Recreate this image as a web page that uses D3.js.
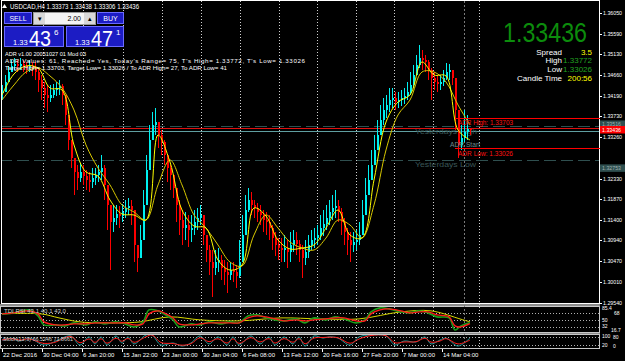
<!DOCTYPE html>
<html lang="en">
<head>
<meta charset="UTF-8">
<title>USDCAD,H4</title>
<script src="https://d3js.org/d3.v7.min.js"></script>
<style>
  body { margin: 0; background: #000; }
  svg { display: block; font-family: "Liberation Sans", Arial, sans-serif; }
</style>
</head>
<body>
<svg id="chart" width="625" height="361"></svg>
<script>
const closes = [
  1.3428,1.34505,1.3473,1.34865,1.3491,1.34865,1.3491,1.34865,1.3482,1.34865,
  1.3482,1.3473,1.3455,1.3437,1.34213,1.34145,1.34213,1.34325,1.3437,1.34415,
  1.34213,1.33763,1.3320,1.32795,1.3248,1.32345,1.3248,1.3239,1.3230,1.32255,
  1.32345,1.32413,1.3248,1.3257,1.32188,1.31738,1.31355,1.31445,1.31535,1.3149,
  1.3158,1.3167,1.31715,1.31625,1.30838,1.30545,1.3095,1.31738,1.32525,1.3320,
  1.33538,1.33605,1.33313,1.33155,1.32863,1.3257,1.32413,1.3212,1.31738,1.3140,
  1.3122,1.31288,1.31175,1.3122,1.31355,1.31445,1.31513,1.31063,1.30725,1.30455,
  1.3032,1.30455,1.3050,1.3032,1.3023,1.30163,1.30275,1.3023,1.3014,1.30455,
  1.31063,1.31625,1.3185,1.31738,1.3167,1.3158,1.31513,1.3140,1.31355,1.3122,
  1.30995,1.30838,1.3077,1.30725,1.3077,1.3068,1.30838,1.3095,1.3086,1.30725,
  1.30545,1.3068,1.30838,1.3095,1.30995,1.31063,1.3122,1.3131,1.31445,1.3158,
  1.3167,1.31715,1.3158,1.31355,1.3113,1.3095,1.30838,1.30905,1.3095,1.31063,
  1.31513,1.31963,1.3230,1.32638,1.32975,1.33313,1.3365,1.33875,1.33988,1.3410,
  1.34145,1.34055,1.3410,1.34145,1.3419,1.3428,1.34438,1.34663,1.34888,1.35045,
  1.3500,1.34955,1.34775,1.34595,1.34505,1.3446,1.34505,1.34595,1.3473,1.34775,
  1.34595,1.33875,1.33088,1.33245,1.3338,1.33448,1.33436
];
const highs = [
  1.34438,1.34663,1.34865,1.3500,1.35045,1.3500,1.35045,1.3500,1.34955,1.3500,
  1.34955,1.34955,1.3482,1.34663,1.34505,1.34438,1.34438,1.3446,1.34505,1.3455,
  1.3446,1.34213,1.33763,1.3320,1.32795,1.32638,1.32683,1.32638,1.32525,1.3248,
  1.3257,1.3257,1.32638,1.32863,1.32638,1.32188,1.31738,1.31738,1.31738,1.31715,
  1.3176,1.3185,1.31895,1.3185,1.31625,1.30838,1.31288,1.32075,1.32863,1.33538,
  1.3383,1.3392,1.33605,1.33425,1.3320,1.32863,1.32638,1.32413,1.3212,1.3185,
  1.31625,1.3158,1.31513,1.31513,1.31625,1.3167,1.31738,1.31513,1.31063,1.30838,
  1.30725,1.30725,1.3077,1.30613,1.3050,1.30455,1.30455,1.30455,1.30388,1.3095,
  1.31513,1.31963,1.3212,1.3203,1.3185,1.31783,1.31738,1.31625,1.3158,1.31513,
  1.31288,1.3113,1.30995,1.30995,1.31063,1.3095,1.3113,1.31175,1.3113,1.3095,
  1.30838,1.3095,1.31063,1.31175,1.3122,1.31288,1.31513,1.31625,1.31738,1.3185,
  1.31963,1.32075,1.3185,1.3167,1.31445,1.3122,1.3113,1.3113,1.31175,1.31355,
  1.3185,1.32345,1.32638,1.32975,1.33313,1.3365,1.33988,1.34145,1.34213,1.3437,
  1.3437,1.3428,1.3428,1.34325,1.3437,1.34505,1.3473,1.34888,1.35113,1.35338,
  1.35225,1.35113,1.3500,1.3482,1.3473,1.3464,1.34663,1.34775,1.34933,1.3491,
  1.34775,1.34595,1.33875,1.33538,1.33875,1.33763,1.33455
];
const lows = [
  1.3410,1.3428,1.34505,1.3473,1.34775,1.3473,1.34775,1.3473,1.34685,1.3473,
  1.3464,1.3455,1.3428,1.3410,1.3392,1.3383,1.34055,1.34145,1.3419,1.34213,
  1.33988,1.33538,1.32975,1.3257,1.31963,1.32075,1.32255,1.32188,1.32075,1.3203,
  1.3212,1.32188,1.32255,1.3230,1.3185,1.31175,1.30275,1.3113,1.31288,1.3122,
  1.31355,1.31445,1.31513,1.31288,1.30455,1.3023,1.30545,1.3095,1.31738,1.32525,
  1.3320,1.33313,1.3302,1.32863,1.32638,1.32255,1.32075,1.31895,1.31355,1.31063,
  1.30838,1.3095,1.30793,1.30905,1.31063,1.31175,1.31288,1.30838,1.30455,1.30163,
  1.29668,1.30163,1.3023,1.3005,1.29938,1.29758,1.3005,1.30005,1.2987,1.30095,
  1.30455,1.31063,1.3158,1.31513,1.31445,1.31355,1.31288,1.3113,1.31063,1.3095,
  1.30725,1.3059,1.3050,1.30455,1.30455,1.3032,1.30455,1.3068,1.30613,1.30455,
  1.30095,1.30388,1.30545,1.30725,1.3077,1.30838,1.3095,1.3104,1.31175,1.31288,
  1.3140,1.31445,1.31355,1.31063,1.30838,1.30613,1.30455,1.3068,1.30725,1.30838,
  1.31063,1.31513,1.31963,1.3230,1.32638,1.32975,1.33313,1.33538,1.33695,1.3383,
  1.3392,1.33875,1.3392,1.33965,1.3401,1.3410,1.34213,1.3437,1.34663,1.3482,
  1.34775,1.3473,1.3455,1.3410,1.34325,1.3428,1.34325,1.34415,1.3455,1.3455,
  1.34438,1.33425,1.32795,1.32975,1.33155,1.3320,1.33306
];

// moving averages, one reading every 4 bars
const maStep = 4;
const maFast = [
  1.34213,1.34685,1.34865,1.3482,1.3437,1.34325,1.33088,1.3248,1.3239,1.3185,
  1.31535,1.31513,1.3140,1.33313,1.32705,1.31625,1.31265,1.3122,1.3050,1.30275,
  1.30388,1.3167,1.3149,1.3095,1.30748,1.3077,1.30838,1.3122,1.31625,1.31063,
  1.30995,1.3230,1.33605,1.34055,1.34213,1.34955,1.34663,1.3464,1.33425,1.3320
];
const maSlow = [
  1.3410,1.34438,1.3473,1.3482,1.3464,1.3437,1.33875,1.33088,1.3257,1.32188,
  1.31738,1.3158,1.3140,1.32188,1.3275,1.32188,1.31513,1.3122,1.30838,1.30455,
  1.30365,1.31063,1.31513,1.3122,1.30905,1.3077,1.30725,1.30995,1.3140,1.31288,
  1.30995,1.31738,1.32975,1.33763,1.3410,1.3473,1.3473,1.34505,1.33988,1.33538
];

// TDI sub-window
const rsiBars = [0,4,9,12,14,18,21,24,28,31,34,38,41,44,47,49,52,54,57,59,63,66,69,73,76,79,82,85,88,91,94,98,101,104,108,111,114,118,121,123,126,129,133,136,139,142,145,149,151,153,156];
const rsiGreen = [66.4,69.1,77.2,61.0,36.8,36.8,34.1,42.2,36.8,44.9,39.5,44.9,39.5,31.4,44.9,77.2,74.5,66.4,50.3,31.4,39.5,36.8,44.9,39.5,44.9,42.2,61.0,63.7,55.6,50.3,47.6,52.9,42.2,55.6,50.3,58.3,52.9,42.2,50.3,71.8,82.6,79.9,71.8,69.1,74.5,69.1,58.3,55.6,23.3,34.1,43.1];
const rsiRed = [66.4,69.1,74.5,66.4,44.9,36.8,36.8,39.5,39.5,42.2,42.2,42.2,42.2,36.8,39.5,66.4,74.5,69.1,55.6,39.5,36.8,39.5,42.2,42.2,42.2,42.2,55.6,61.0,58.3,52.9,47.6,50.3,47.6,50.3,52.9,55.6,55.6,47.6,47.6,66.4,77.2,79.9,74.5,69.1,71.8,71.8,63.7,58.3,34.1,31.4,40.1];
const baseBars = [0,13,19,26,39,46,56,66,79,93,106,119,133,143,153,156];
const baseLine = [66.4,66.4,55.6,44.9,42.2,44.9,58.3,50.3,47.6,55.6,52.9,52.9,71.8,74.5,52,45];
const rsiLevels = [68, 50, 32];
const rsiRange = [16.7, 85.4];

// Stochastic sub-window
const stochBars = [0,3,6,9,14,18,20,23,26,29,31,33,35,38,40,42,44,48,50,53,57,60,63,66,69,72,75,77,79,83,86,89,91,94,97,99,101,104,107,109,112,116,119,123,128,131,134,138,141,143,146,148,152,156];
const stochMain = [57,71,50,71,21,50,71,86,21,79,29,79,21,86,36,79,29,93,93,21,36,14,36,86,29,79,21,79,21,86,29,79,21,79,29,79,14,86,71,79,71,21,79,93,86,21,50,43,79,29,57,71,14,72];
const stochSignal = [57,67,56,65,33,43,65,82,37,65,40,66,34,70,48,68,41,80,93,39,32,20,31,73,45,66,35,66,33,74,43,67,35,67,41,67,30,71,75,77,73,34,64,89,88,37,43,45,70,42,50,67,29,57];
const stochLevels = [80, 20];

// axis text
const priceTicks = [1.36050,1.35590,1.35130,1.34660,1.34190,1.33730,1.33260,1.32330,1.31870,1.31400,1.30940,1.30470,1.30010,1.29540];
const dateLabels = ["22 Dec 2016","30 Dec 04:00","6 Jan 20:00","15 Jan 22:00","23 Jan 00:00","30 Jan 04:00","6 Feb 08:00","13 Feb 12:00","20 Feb 16:00","27 Feb 20:00","7 Mar 00:00","14 Mar 04:00"];
const gridBars = [13.8,27,40.2,53.3,66.3,79.3,92.3,105,117.9,130.8,143.8,159.1];

// levels and info
const bid = 1.33436, ask = 1.33471;
const barInfo = { open: "1.33373", high: "1.33438", low: "1.33306", close: "1.33436" };
const yHigh = 1.33516, yLow = 1.32753;
const adrHigh = 1.33703, adrLow = 1.33026, adrFromBar = 151, adrStartBar = 154;
const dayHigh = "1.33772", dayLow = "1.33026", spread = "3.5", candleTime = "200:56";

const svg = d3.select("#chart");
const W = 625, H = 361;
const right = 599.5, mainBottom = 303.5;

const x = d3.scaleLinear().domain([0, closes.length - 1]).range([2, 470]);
const y = d3.scaleLinear().domain([1.29540, 1.36050]).range([302.7, 13.3]);
const yRsi = d3.scaleLinear().domain(rsiRange).range([332.4, 306.8]);
const ySto = d3.scaleLinear().domain([0, 100]).range([348, 334]);
const px = v => Math.round(v) + 0.5;

svg.append("rect").attr("width", W).attr("height", H).attr("fill", "#000");
const defs = svg.append("defs");
defs.append("clipPath").attr("id", "mainClip").append("rect")
  .attr("x", 2).attr("y", 1).attr("width", 597).attr("height", 302);
defs.append("clipPath").attr("id", "sub1Clip").append("rect")
  .attr("x", 2).attr("y", 307).attr("width", 597).attr("height", 25);
defs.append("clipPath").attr("id", "sub2Clip").append("rect")
  .attr("x", 2).attr("y", 335).attr("width", 597).attr("height", 13);

function text(g, tx, ty, s, o = {}) {
  const t = g.append("text").attr("x", tx).attr("y", ty).text(s)
    .attr("font-size", o.size || 7).attr("fill", o.fill || "#fff")
    .attr("text-anchor", o.anchor || "start");
  if (o.len) t.attr("textLength", o.len).attr("lengthAdjust", o.adjust || "spacingAndGlyphs");
  return t;
}

// window frames and separators
const frame = svg.append("g").attr("shape-rendering", "crispEdges");
frame.append("rect").attr("x", 0).attr("y", 304).attr("width", 600).attr("height", 2).attr("fill", "#8c8c8c");
frame.append("rect").attr("x", 0).attr("y", 333).attr("width", 600).attr("height", 1).attr("fill", "#8c8c8c");
frame.append("rect").attr("x", 1.5).attr("y", 0.5).attr("width", right - 1.5).attr("height", mainBottom - 0.5)
  .attr("fill", "none").attr("stroke", "#fff");
frame.append("rect").attr("x", 0.5).attr("y", 306.5).attr("width", right - 0.5).attr("height", 26)
  .attr("fill", "none").attr("stroke", "#c8c8c8");
frame.append("rect").attr("x", 0.5).attr("y", 334.5).attr("width", right - 0.5).attr("height", 14)
  .attr("fill", "none").attr("stroke", "#c8c8c8");

// vertical grid
const grid = svg.append("g").attr("shape-rendering", "crispEdges");
grid.selectAll("line").data(gridBars).join("line")
  .attr("x1", d => px(x(d))).attr("x2", d => px(x(d)))
  .attr("y1", 1).attr("y2", 348)
  .attr("stroke", "#d0d0d0").attr("stroke-dasharray", "1,2");
grid.append("line")
  .attr("x1", px(x(adrStartBar))).attr("x2", px(x(adrStartBar)))
  .attr("y1", 1).attr("y2", 348)
  .attr("stroke", "#7a7a7a").attr("stroke-dasharray", "2,2");

// sub-window levels
grid.selectAll("line.rl").data(rsiLevels).join("line").attr("class", "rl")
  .attr("x1", 1).attr("x2", right).attr("y1", d => px(yRsi(d))).attr("y2", d => px(yRsi(d)))
  .attr("stroke", "#b0b0b0").attr("stroke-dasharray", "1,2");
grid.selectAll("line.sl").data(stochLevels).join("line").attr("class", "sl")
  .attr("x1", 1).attr("x2", right).attr("y1", d => px(ySto(d))).attr("y2", d => px(ySto(d)))
  .attr("stroke", "#b0b0b0").attr("stroke-dasharray", "1,2");

// horizontal objects behind candles
const objs = svg.append("g").attr("clip-path", "url(#mainClip)").attr("shape-rendering", "crispEdges");
[yHigh, yLow].forEach(p => {
  objs.append("line").attr("x1", 0).attr("x2", right).attr("y1", px(y(p))).attr("y2", px(y(p)))
    .attr("stroke", "#2f4f4f").attr("stroke-dasharray", "12,5");
});
objs.append("line").attr("x1", 0).attr("x2", right).attr("y1", px(y(ask))).attr("y2", px(y(ask)))
  .attr("stroke", "#e01010");
objs.append("line").attr("x1", 0).attr("x2", right).attr("y1", px(y(bid)) + 1).attr("y2", px(y(bid)) + 1)
  .attr("stroke", "#5f9ea0");
text(svg, 415, y(yHigh) + 8, "Yesterdays High", { size: 8, fill: "#3a5656", len: 62 });
text(svg, 415, y(yLow) + 7, "Yesterdays Low", { size: 8, fill: "#3a5656", len: 61 });

// candles
const bars = closes.map((c, i) => ({ i, o: i ? closes[i - 1] : c, h: highs[i], l: lows[i], c }));
const up = "#00f0f0", down = "#ff0000";
const cg = svg.append("g").attr("clip-path", "url(#mainClip)").attr("shape-rendering", "crispEdges");
cg.selectAll("line").data(bars).join("line")
  .attr("x1", d => x(d.i) + 0.5).attr("x2", d => x(d.i) + 0.5)
  .attr("y1", d => y(d.h)).attr("y2", d => y(d.l))
  .attr("stroke", d => d.c >= d.o ? up : down);
cg.selectAll("rect").data(bars).join("rect")
  .attr("x", d => x(d.i)).attr("width", 2)
  .attr("y", d => y(Math.max(d.o, d.c)))
  .attr("height", d => Math.max(1, Math.abs(y(d.o) - y(d.c))))
  .attr("fill", d => d.c >= d.o ? up : down);

// moving averages
const maLine = d3.line().x((d, i) => x(i * maStep)).y(d => y(d)).curve(d3.curveCatmullRom.alpha(0.5));
const mg = svg.append("g").attr("clip-path", "url(#mainClip)").attr("fill", "none");
mg.append("path").attr("d", maLine(maSlow)).attr("stroke", "#d8c800").attr("stroke-width", 1);
mg.append("path").attr("d", maLine(maFast)).attr("stroke", "#ffff00").attr("stroke-width", 1);

// ADR box lines
const adr = svg.append("g").attr("shape-rendering", "crispEdges");
[adrHigh, adrLow].forEach(p => {
  adr.append("line").attr("x1", x(adrFromBar)).attr("x2", right).attr("y1", px(y(p))).attr("y2", px(y(p)))
    .attr("stroke", "#ff0000").attr("stroke-width", 1.5);
});
text(svg, 458, y(adrHigh) + 7.5, "ADR High: " + adrHigh.toFixed(5), { size: 7, fill: "#ff1010", len: 55 });
text(svg, 458, y(adrLow) + 8, "ADR Low: " + adrLow.toFixed(5), { size: 7, fill: "#ff1010", len: 55 });
text(svg, 450, y(adrLow) - 0.5, "ADR Start", { size: 6.5, fill: "#6a8c8c", len: 30 });

// TDI lines
const rsiLine = vals => d3.line().x((d, i) => x(rsiBars[i])).y(d => yRsi(d)).curve(d3.curveCatmullRom.alpha(0.5))(vals);
const s1 = svg.append("g").attr("clip-path", "url(#sub1Clip)").attr("fill", "none");
s1.append("path").attr("d", d3.line().x((d, i) => x(baseBars[i])).y(d => yRsi(d)).curve(d3.curveCatmullRom.alpha(0.5))(baseLine))
  .attr("stroke", "#d8d800").attr("stroke-width", 1);
s1.append("path").attr("d", rsiLine(rsiGreen)).attr("stroke", "#1a9e1a").attr("stroke-width", 1.6);
s1.append("path").attr("d", rsiLine(rsiRed)).attr("stroke", "#ff1a1a").attr("stroke-width", 1.3);
text(svg, 4, 313, "TDI RSI " + rsiGreen[rsiGreen.length - 1].toFixed(1) + " " + rsiRed[rsiRed.length - 1].toFixed(1) + " 43.0",
  { size: 6, fill: "#d0d0d0", len: 62 });

// Stochastic lines
const stLine = vals => d3.line().x((d, i) => x(stochBars[i])).y(d => ySto(d)).curve(d3.curveCatmullRom.alpha(0.5))(vals);
const s2 = svg.append("g").attr("clip-path", "url(#sub2Clip)").attr("fill", "none");
s2.append("path").attr("d", stLine(stochMain)).attr("stroke", "#1f9a9a").attr("stroke-width", 1);
s2.append("path").attr("d", stLine(stochSignal)).attr("stroke", "#ff1a1a").attr("stroke-width", 1);
text(svg, 3, 341, "Stoch(13,3) 66.5346 71.8661", { size: 6, fill: "#d0d0d0", len: 70 });

// price axis
const ax = svg.append("g");
ax.selectAll("line").data(priceTicks).join("line")
  .attr("x1", 600).attr("x2", 602).attr("y1", d => px(y(d))).attr("y2", d => px(y(d)))
  .attr("stroke", "#fff").attr("shape-rendering", "crispEdges");
ax.selectAll("text").data(priceTicks).join("text")
  .attr("x", 603).attr("y", d => y(d) + 2).attr("font-size", 5.8).attr("fill", "#fff")
  .attr("textLength", 19).attr("lengthAdjust", "spacingAndGlyphs")
  .text(d => d.toFixed(5));

function priceBox(py, label, bg, fg) {
  ax.append("rect").attr("x", 600).attr("y", py - 3.5).attr("width", 25).attr("height", 7.5).attr("fill", bg);
  text(ax, 602, py + 2.2, label, { size: 5.8, fill: fg, len: 19 });
}
priceBox(y(yHigh) - 2, yHigh.toFixed(5), "#2f4f4f", "#9fb0b0");
priceBox(y(bid), bid.toFixed(5), "#ff0000", "#fff");
priceBox(y(yLow) + 8, yLow.toFixed(5), "#2f4f4f", "#9fb0b0");

// sub-window scales (the crowded pairs sit side by side)
const sf = 5;
text(ax, 602, yRsi(rsiRange[1]) + 3.6, rsiRange[1].toFixed(1), { size: sf });
text(ax, 614, yRsi(68) + 2, "68", { size: sf });
text(ax, 602, yRsi(50) + 1.8, "50", { size: sf });
text(ax, 602, yRsi(32) + 1.8, "32", { size: sf });
text(ax, 611, yRsi(rsiRange[0]) - 0.6, rsiRange[0].toFixed(1), { size: sf });
text(ax, 602, ySto(100) + 4, "100", { size: sf });
text(ax, 613, ySto(80) + 1.8, "80", { size: sf });
text(ax, 602, ySto(20) + 1.8, "20", { size: sf });
text(ax, 613, ySto(0) - 0.5, "0", { size: sf });

// date axis
const barsPerLabel = 40 / 3;
const dg = svg.append("g");
dateLabels.forEach((s, i) => {
  const lx = x(i * barsPerLabel);
  dg.append("line").attr("x1", px(lx)).attr("x2", px(lx)).attr("y1", 349).attr("y2", 352)
    .attr("stroke", "#fff").attr("shape-rendering", "crispEdges");
  text(dg, lx + 1, 357, s, { size: 6 });
});

// header line
svg.append("path").attr("d", "M2,8 L4.5,4 L7,8 Z").attr("fill", "#fff");
text(svg, 10, 8.5, "USDCAD,H4 " + barInfo.open + " " + barInfo.high + " " + barInfo.low + " " + barInfo.close,
  { size: 7, len: 129 });

// one-click trading panel
const panel = svg.append("g").attr("shape-rendering", "crispEdges");
const blue = "#1c1cc4", blueEdge = "#6a6aff";
panel.append("rect").attr("x", 4.5).attr("y", 12.5).attr("width", 27).attr("height", 11).attr("fill", blue).attr("stroke", blueEdge);
panel.append("rect").attr("x", 97.5).attr("y", 12.5).attr("width", 26).attr("height", 11).attr("fill", blue).attr("stroke", blueEdge);
panel.append("rect").attr("x", 33.5).attr("y", 12.5).attr("width", 62).attr("height", 12).attr("fill", "#f4f4f4").attr("stroke", "#9a9a9a");
panel.append("rect").attr("x", 34).attr("y", 13).attr("width", 11).attr("height", 11).attr("fill", "#d8d8d8");
panel.append("rect").attr("x", 84).attr("y", 13).attr("width", 11).attr("height", 11).attr("fill", "#d8d8d8");
panel.append("rect").attr("x", 4.5).attr("y", 26.5).attr("width", 59).attr("height", 20).attr("fill", blue).attr("stroke", blueEdge);
panel.append("rect").attr("x", 66.5).attr("y", 26.5).attr("width", 57).attr("height", 20).attr("fill", blue).attr("stroke", blueEdge);
text(svg, 18, 21, "SELL", { size: 7, anchor: "middle" });
text(svg, 110.5, 21, "BUY", { size: 7, anchor: "middle" });
text(svg, 39.5, 20.5, "\u25BE", { size: 7, fill: "#000", anchor: "middle" });
text(svg, 89.5, 20.5, "\u25B4", { size: 7, fill: "#000", anchor: "middle" });
text(svg, 81, 21, "2.00", { size: 7, fill: "#000", anchor: "end" });
function quote(x0, p) {
  const s = p.toFixed(5);
  text(svg, x0, 45, s.slice(0, 4), { size: 7.5 });
  text(svg, x0 + 16, 45.5, s.slice(4, 6), { size: 22, len: 22 });
  text(svg, x0 + 41, 35, s.slice(6), { size: 8 });
}
quote(13, bid);
quote(75, ask);

// ADR text lines
text(svg, 5, 55.5, "ADR v1.00 20051027 01 Mod 03", { size: 6.2, len: 81 });
text(svg, 5, 62.5, "ADR Values: 61, Reached= Yes, Today's Range= 75, T's High= " + dayHigh + ", T's Low= " + dayLow,
  { size: 6.2, len: 300, adjust: "spacing" });
text(svg, 5, 69.5, "Target High= " + adrHigh.toFixed(5) + ", Target Low= " + adrLow.toFixed(5) + " / To ADR High= 27, To ADR Low= 41",
  { size: 6.2, len: 222 });

// top right info
text(svg, 587, 41.5, bid.toFixed(5), { size: 27, fill: "#0c8c0c", anchor: "end", len: 84 });
const info = [["Spread", spread, "#ffff00"], ["High", dayHigh, "#20a020"], ["Low", dayLow, "#20a020"], ["Candle Time", candleTime, "#ffff00"]];
info.forEach((r, i) => {
  text(svg, 562, 54.5 + i * 8.8, r[0], { size: 8, anchor: "end" });
  text(svg, 592, 54.5 + i * 8.8, r[1], { size: 8, anchor: "end", fill: r[2] });
});
</script>
</body>
</html>
